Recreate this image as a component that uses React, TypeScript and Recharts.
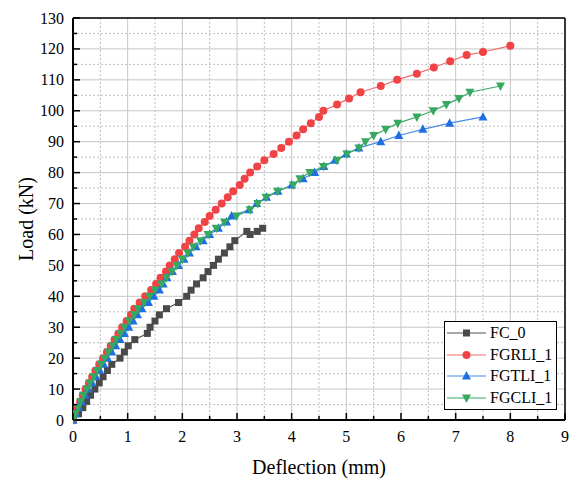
import React from "react";
import {
  CartesianGrid,
  Line,
  LineChart,
  ReferenceLine,
  XAxis,
  YAxis,
} from "recharts";

// FC_0
const fc0Defl = [0, 0.1, 0.18, 0.25, 0.32, 0.4, 0.48, 0.55, 0.63, 0.71, 0.86, 0.94, 1.01, 1.13, 1.36, 1.41, 1.5, 1.58, 1.71, 1.93, 2.08, 2.16, 2.26, 2.38, 2.47, 2.57, 2.66, 2.77, 2.87, 2.96, 3.18, 3.24, 3.37, 3.47];
const fc0Load = [0, 2, 4, 6, 8, 10, 12, 14, 16, 18, 20, 22, 24, 26, 28, 30, 32, 34, 36, 38, 40, 42, 44, 46, 48, 50, 52, 54, 56, 58, 61, 60, 61, 62];

// FGRLI_1
const rliDefl = [0, 0.04, 0.08, 0.13, 0.18, 0.23, 0.29, 0.35, 0.41, 0.48, 0.55, 0.62, 0.69, 0.76, 0.83, 0.9, 0.98, 1.06, 1.12, 1.22, 1.32, 1.43, 1.52, 1.6, 1.7, 1.77, 1.86, 1.94, 2.05, 2.13, 2.22, 2.3, 2.41, 2.5, 2.61, 2.72, 2.83, 2.93, 3.05, 3.14, 3.24, 3.37, 3.5, 3.67, 3.81, 3.95, 4.09, 4.21, 4.35, 4.5, 4.58, 4.83, 5.05, 5.26, 5.63, 5.93, 6.29, 6.6, 6.9, 7.2, 7.5, 8.0];
const rliLoad = [0, 2, 4, 6, 8, 10, 12, 14, 16, 18, 20, 22, 24, 26, 28, 30, 32, 34, 36, 38, 40, 42, 44, 46, 48, 50, 52, 54, 56, 58, 60, 62, 64, 66, 68, 70, 72, 74, 76, 78, 80, 82, 84, 86, 88, 90, 92, 94, 96, 98, 100, 102, 104, 106, 108, 110, 112, 114, 116, 118, 119, 121];

// FGTLI_1
const tliDefl = [0, 0.05, 0.1, 0.16, 0.22, 0.28, 0.35, 0.42, 0.49, 0.56, 0.63, 0.71, 0.78, 0.86, 0.94, 1.02, 1.1, 1.18, 1.26, 1.38, 1.48, 1.58, 1.65, 1.72, 1.82, 1.93, 2.03, 2.13, 2.25, 2.38, 2.5, 2.66, 2.81, 2.9, 3.22, 3.36, 3.54, 3.75, 4.0, 4.21, 4.42, 4.59, 4.79, 5.0, 5.23, 5.63, 5.96, 6.4, 6.89, 7.5];
const tliLoad = [0, 2, 4, 6, 8, 10, 12, 14, 16, 18, 20, 22, 24, 26, 28, 30, 32, 34, 36, 38, 40, 42, 44, 46, 48, 50, 52, 54, 56, 58, 60, 62, 64, 66, 68, 70, 72, 74, 76, 78, 80, 82, 84, 86, 88, 90, 92, 94, 96, 98];

// FGCLI_1
const cliDefl = [0, 0.04, 0.09, 0.14, 0.19, 0.25, 0.31, 0.38, 0.44, 0.51, 0.58, 0.65, 0.72, 0.79, 0.87, 0.94, 1.03, 1.12, 1.19, 1.3, 1.4, 1.5, 1.62, 1.71, 1.81, 1.9, 2.0, 2.1, 2.2, 2.33, 2.47, 2.62, 2.77, 2.99, 3.24, 3.38, 3.53, 3.74, 4.03, 4.15, 4.33, 4.58, 4.83, 5.01, 5.23, 5.35, 5.5, 5.72, 5.94, 6.29, 6.59, 6.83, 7.06, 7.26, 7.82];
const cliLoad = [0, 2, 4, 6, 8, 10, 12, 14, 16, 18, 20, 22, 24, 26, 28, 30, 32, 34, 36, 38, 40, 42, 44, 46, 48, 50, 52, 54, 56, 58, 60, 62, 64, 66, 68, 70, 72, 74, 76, 78, 80, 82, 84, 86, 88, 90, 92, 94, 96, 98, 100, 102, 104, 106, 108];

const xTicks = [0, 0.5, 1, 1.5, 2, 2.5, 3, 3.5, 4, 4.5, 5, 5.5, 6, 6.5, 7, 7.5, 8, 8.5, 9];
const yTicks = [0, 5, 10, 15, 20, 25, 30, 35, 40, 45, 50, 55, 60, 65, 70, 75, 80, 85, 90, 95, 100, 105, 110, 115, 120, 125, 130];

const FONT = "Liberation Serif";

const zip = (xs: number[], ys: number[]) => xs.map((x, i) => ({ x, y: ys[i] }));

const series = [
  { name: "FC_0", data: zip(fc0Defl, fc0Load), color: "#4a4a4a", line: "#555555", shape: "square" },
  { name: "FGRLI_1", data: zip(rliDefl, rliLoad), color: "#f04346", line: "#f26b6e", shape: "circle" },
  { name: "FGTLI_1", data: zip(tliDefl, tliLoad), color: "#1f6fe0", line: "#4a8ae6", shape: "up" },
  { name: "FGCLI_1", data: zip(cliDefl, cliLoad), color: "#36a860", line: "#36a860", shape: "down" },
];

function Marker({ cx, cy, shape, color }: { cx: number; cy: number; shape: string; color: string }) {
  if (shape === "square") return <rect x={cx - 3.5} y={cy - 3.5} width={7} height={7} fill={color} />;
  if (shape === "circle") return <circle cx={cx} cy={cy} r={4} fill={color} />;
  if (shape === "up")
    return <polygon points={`${cx},${cy - 5} ${cx - 4.5},${cy + 3.5} ${cx + 4.5},${cy + 3.5}`} fill={color} />;
  return <polygon points={`${cx},${cy + 5} ${cx - 4.5},${cy - 3.5} ${cx + 4.5},${cy - 3.5}`} fill={color} />;
}

const XTick = (props: any) => {
  const { x, y, payload } = props;
  const v = payload.value;
  const axisY = y - 12;
  const major = Number.isInteger(v);
  return (
    <g>
      <line x1={x} y1={axisY} x2={x} y2={axisY - (major ? 7 : 4)} stroke="#000" strokeWidth={1.5} />
      {major && (
        <text x={x} y={axisY + 22} textAnchor="middle" style={{ fontSize: 16, fontFamily: FONT }} fill="#000">
          {v}
        </text>
      )}
    </g>
  );
};

const YTick = (props: any) => {
  const { x, y, payload } = props;
  const v = payload.value;
  const axisX = x + 8;
  const major = v % 10 === 0;
  return (
    <g>
      <line x1={axisX} y1={y} x2={axisX + (major ? 7 : 4)} y2={y} stroke="#000" strokeWidth={1.5} />
      {major && (
        <text x={axisX - 9} y={y + 5.5} textAnchor="end" style={{ fontSize: 16, fontFamily: FONT }} fill="#000">
          {v}
        </text>
      )}
    </g>
  );
};

const majorY = (args: any) =>
  yTicks.filter((v) => v % 10 === 0).map((v) => args.offset.top + args.offset.height * (1 - v / 130));
const minorY = (args: any) =>
  yTicks.filter((v) => v % 10 !== 0).map((v) => args.offset.top + args.offset.height * (1 - v / 130));
const majorX = (args: any) =>
  xTicks.filter((v) => Number.isInteger(v)).map((v) => args.offset.left + (args.offset.width * v) / 9);
const minorX = (args: any) =>
  xTicks.filter((v) => !Number.isInteger(v)).map((v) => args.offset.left + (args.offset.width * v) / 9);

function LegendBox() {
  return (
    <div
      style={{
        position: "absolute",
        left: 444,
        top: 321,
        width: 113,
        height: 89,
        border: "1px solid #000",
        background: "#fff",
        fontFamily: FONT,
        fontSize: 16,
        boxSizing: "border-box",
        paddingTop: 0,
      }}
    >
      {series.map((s) => (
        <div key={s.name} style={{ display: "flex", alignItems: "center", height: 21.8 }}>
          <svg width={42} height={12} style={{ marginLeft: 1 }}>
            <line x1={1} y1={6} x2={40} y2={6} stroke={s.line} strokeWidth={1.2} />
            <Marker cx={20.5} cy={6} shape={s.shape} color={s.color} />
          </svg>
          <span style={{ marginLeft: 2 }}>{s.name}</span>
        </div>
      ))}
    </div>
  );
}

export default function App() {
  return (
    <div style={{ position: "absolute", left: 0, top: 0, width: 570, height: 482, background: "#fff", fontFamily: FONT }}>
      <LineChart width={570} height={482} margin={{ top: 18, right: 5, bottom: 0, left: 0 }} style={{ fontFamily: FONT }}>
        <CartesianGrid stroke="#c6c6c6" strokeWidth={1} horizontalCoordinatesGenerator={majorY} verticalCoordinatesGenerator={majorX} />
        <CartesianGrid stroke="#c0c0c0" strokeWidth={1} strokeDasharray="2 2" horizontalCoordinatesGenerator={minorY} verticalCoordinatesGenerator={minorX} />
        <XAxis
          dataKey="x"
          type="number"
          domain={[0, 9]}
          ticks={xTicks}
          interval={0}
          height={62}
          tickSize={0}
          tickMargin={12}
          tick={<XTick />}
          axisLine={{ stroke: "#000", strokeWidth: 2 }}
          allowDataOverflow
          label={{ value: "Deflection (mm)", position: "insideBottom", offset: 8, fill: "#000", style: { fontSize: 20, fontFamily: FONT } }}
        />
        <YAxis
          dataKey="y"
          type="number"
          domain={[0, 130]}
          ticks={yTicks}
          interval={0}
          width={73}
          tickSize={0}
          tickMargin={8}
          tick={<YTick />}
          axisLine={{ stroke: "#000", strokeWidth: 2 }}
          label={{ value: "Load (kN)", angle: -90, position: "insideLeft", offset: 26, fill: "#000", style: { textAnchor: "middle", fontSize: 20, fontFamily: FONT } }}
        />
        <ReferenceLine y={130} stroke="#000" strokeWidth={1.5} />
        <ReferenceLine x={9} stroke="#000" strokeWidth={1.5} />
        {series.map((s) => (
          <Line
            key={s.name}
            data={s.data}
            dataKey="y"
            name={s.name}
            type="linear"
            stroke={s.line}
            strokeWidth={1.2}
            isAnimationActive={false}
            dot={(p: any) => <Marker key={`${s.name}-${p.index}`} cx={p.cx} cy={p.cy} shape={s.shape} color={s.color} />}
            activeDot={false}
          />
        ))}
      </LineChart>
      <LegendBox />
    </div>
  );
}
